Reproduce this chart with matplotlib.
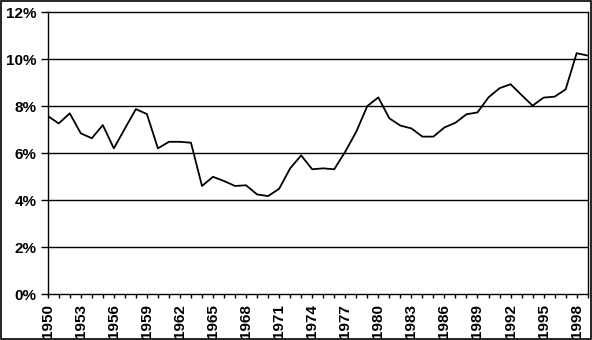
import numpy as np
import matplotlib
matplotlib.use('Agg')
import matplotlib.pyplot as plt
from matplotlib.ticker import FuncFormatter, MultipleLocator

years = list(range(1950, 2000))
rates = [7.59, 7.27, 7.70, 6.85, 6.64, 7.20, 6.21, 7.05, 7.88, 7.67,
         6.21, 6.49, 6.49, 6.45, 4.61, 5.00, 4.82, 4.61, 4.64, 4.25,
         4.18, 4.49, 5.36, 5.91, 5.32, 5.36, 5.32, 6.07, 6.92, 8.01,
         8.38, 7.49, 7.18, 7.06, 6.71, 6.71, 7.10, 7.30, 7.66, 7.74,
         8.38, 8.77, 8.94, 8.48, 8.03, 8.37, 8.41, 8.72, 10.26, 10.16]
label_years = list(range(1950, 2000, 3))

plt.rcParams['font.family'] = ['Liberation Sans', 'DejaVu Sans']

fig = plt.figure(figsize=(5.92, 3.40), dpi=100)
ax = fig.add_axes([0.0806, 0.1344, 0.9121, 0.8294])

for g in [2, 4, 6, 8, 10]:
    ax.axhline(g, color='black', linewidth=1.0, zorder=1)

ax.plot(years, rates, color='black', linewidth=1.3, zorder=3)

ax.set_xlim(1950, 1999)
ax.set_ylim(0, 12)
ax.yaxis.set_major_locator(MultipleLocator(2))
ax.yaxis.set_major_formatter(FuncFormatter(lambda v, p: '%d%%' % v))
ax.set_xticks(years, minor=True)
ax.set_xticks(label_years)
ax.set_xticklabels([str(y) for y in label_years], rotation=90)
for lab in ax.get_xticklabels() + ax.get_yticklabels():
    lab.set_fontweight('bold')
ax.tick_params(axis='y', which='major', direction='out', length=5, width=1,
               color='black', labelsize=11, pad=3)
ax.tick_params(axis='x', which='both', direction='out', length=3, width=1,
               color='black', labelsize=11, pad=4)

for s in ax.spines.values():
    s.set_linewidth(1.0)
    s.set_color('black')

fig.patches.append(plt.Rectangle((0.001, 0.002), 0.997, 0.996, transform=fig.transFigure,
                                 fill=False, edgecolor='black', linewidth=1.2))

fig.savefig('out.png', dpi=100)
